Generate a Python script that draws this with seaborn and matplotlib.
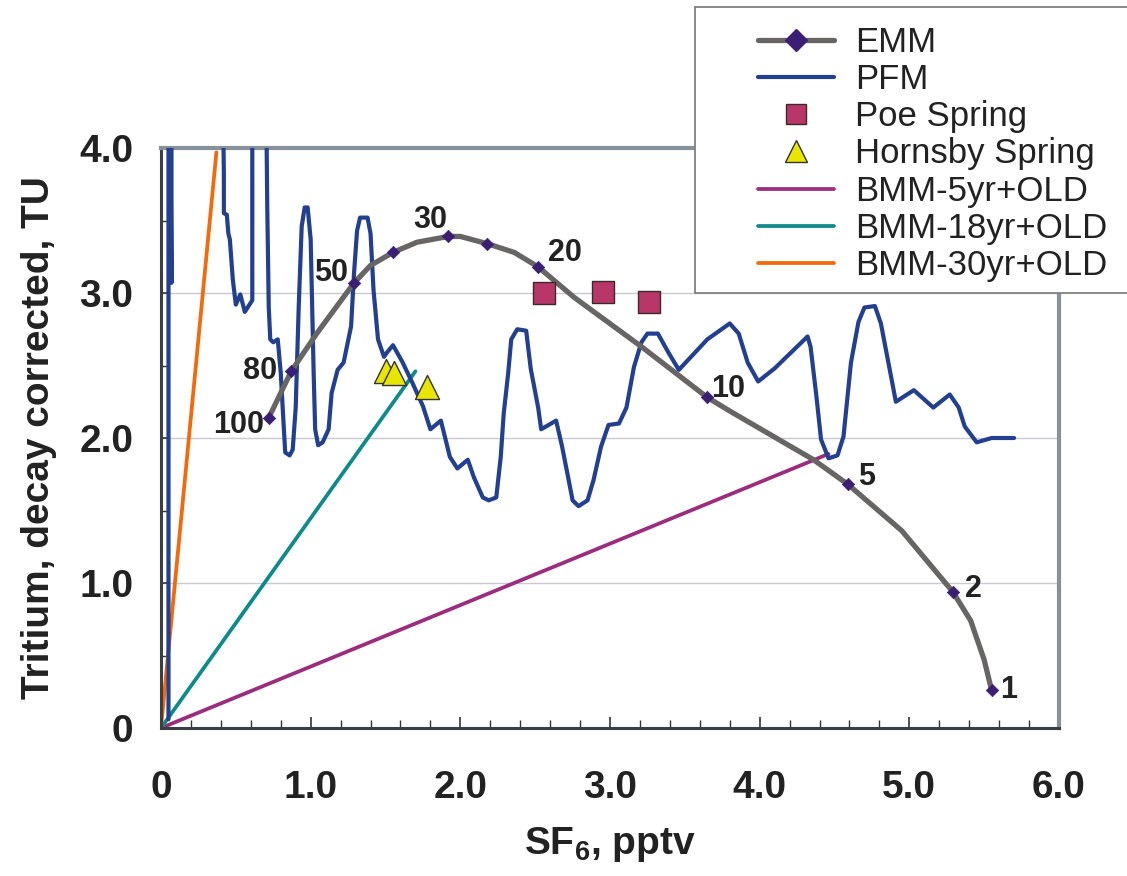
import matplotlib
matplotlib.use("Agg")
import matplotlib.pyplot as plt
import seaborn as sns
from matplotlib.lines import Line2D
from matplotlib.patches import Rectangle
from matplotlib.ticker import MultipleLocator

sns.set_theme(style="white")
plt.rcParams["font.family"] = ["Liberation Sans", "DejaVu Sans"]
plt.rcParams["mathtext.fontset"] = "custom"
plt.rcParams["mathtext.rm"] = "Liberation Sans"
plt.rcParams["mathtext.bf"] = "Liberation Sans:bold"

# EMM curve
emm_x = [0.72, 0.87, 1.04, 1.29, 1.40, 1.55, 1.71, 1.92, 2.00, 2.18, 2.36, 2.52,
         2.76, 3.21, 3.65, 3.81, 4.36, 4.59, 4.95, 5.29, 5.41, 5.50, 5.55]
emm_y = [2.14, 2.46, 2.72, 3.07, 3.19, 3.28, 3.35, 3.39, 3.39, 3.34, 3.28, 3.18,
         2.97, 2.63, 2.28, 2.18, 1.85, 1.68, 1.36, 0.94, 0.74, 0.47, 0.26]
# age markers on the EMM curve (years)
mark_x = [0.72, 0.87, 1.29, 1.55, 1.92, 2.18, 2.52, 3.65, 4.59, 5.29, 5.55]
mark_y = [2.14, 2.46, 3.07, 3.28, 3.39, 3.34, 3.18, 2.28, 1.68, 0.94, 0.26]
mark_age = ["100", "80", "50", "", "30", "", "20", "10", "5", "2", "1"]

# PFM curve (young -> old); 4.6 = off the top of the chart
pfm_x = [5.70, 5.55, 5.45, 5.37, 5.33, 5.27, 5.16, 5.03, 4.91, 4.86, 4.81, 4.77,
         4.70, 4.66, 4.61, 4.56, 4.52, 4.46, 4.41, 4.38, 4.34, 4.32, 4.26, 4.10,
         3.99, 3.92, 3.86, 3.80, 3.65, 3.46, 3.39, 3.32, 3.25, 3.21, 3.16, 3.11,
         3.06, 2.99, 2.94, 2.89, 2.85, 2.79, 2.75, 2.72, 2.68, 2.64, 2.54, 2.52,
         2.47, 2.44, 2.38, 2.34, 2.32, 2.29, 2.27, 2.24, 2.19, 2.15, 2.09, 2.05,
         1.98, 1.93, 1.87, 1.80, 1.75, 1.68, 1.61, 1.55, 1.51, 1.49, 1.45, 1.42,
         1.40, 1.38, 1.33, 1.31, 1.29, 1.27, 1.22, 1.18, 1.14, 1.12, 1.08, 1.05,
         1.03, 1.02, 1.00, 0.98, 0.96, 0.94, 0.92, 0.90, 0.88, 0.86, 0.83, 0.82,
         0.80, 0.78, 0.75, 0.73, 0.72, 0.71, 0.70, 0.61, 0.61, 0.56, 0.53, 0.50,
         0.48, 0.46, 0.45, 0.44, 0.42, 0.42, 0.41, 0.36, 0.07, 0.07, 0.06, 0.05,
         0.05]
pfm_y = [2.00, 2.00, 1.97, 2.08, 2.21, 2.30, 2.21, 2.33, 2.25, 2.52, 2.79, 2.91,
         2.90, 2.80, 2.52, 2.01, 1.88, 1.86, 1.99, 2.28, 2.63, 2.70, 2.64, 2.48,
         2.39, 2.52, 2.72, 2.79, 2.68, 2.47, 2.59, 2.72, 2.72, 2.66, 2.49, 2.21,
         2.10, 2.09, 1.94, 1.71, 1.57, 1.53, 1.57, 1.73, 1.94, 2.12, 2.06, 2.21,
         2.48, 2.74, 2.75, 2.68, 2.45, 2.17, 1.87, 1.59, 1.57, 1.59, 1.73, 1.85,
         1.79, 1.87, 2.12, 2.06, 2.22, 2.38, 2.53, 2.64, 2.59, 2.56, 2.68, 3.02,
         3.41, 3.52, 3.52, 3.43, 3.14, 2.77, 2.52, 2.47, 2.31, 2.06, 1.97, 1.95,
         2.06, 2.45, 3.37, 3.59, 3.59, 3.46, 2.90, 2.21, 1.92, 1.88, 1.90, 2.08,
         2.45, 2.68, 2.66, 2.68, 2.90, 3.59, 4.60, 4.60, 2.95, 2.87, 2.99, 2.92,
         3.09, 3.37, 3.41, 3.54, 3.55, 3.83, 4.60, 4.60, 4.60, 3.07, 4.60, 4.60,
         0.06]

poe_x = [2.56, 2.95, 3.26]
poe_y = [3.00, 3.01, 2.94]
hornsby_x = [1.50, 1.56, 1.78]
hornsby_y = [2.46, 2.45, 2.35]

# binary mixing lines: origin -> end member
bmm_names = ["BMM-5yr+OLD", "BMM-18yr+OLD", "BMM-30yr+OLD"]
bmm_end_x = [4.46, 1.70, 0.37]
bmm_end_y = [1.89, 2.46, 3.97]
bmm_colors = ["#9c2c7c", "#0e8a8a", "#f26a0c"]

x_ticks = [0, 1, 2, 3, 4, 5, 6]
x_ticklabels = ["0", "1.0", "2.0", "3.0", "4.0", "5.0", "6.0"]
y_ticks = [0, 1, 2, 3, 4]
y_ticklabels = ["0", "1.0", "2.0", "3.0", "4.0"]

emm_color = "#686565"
emm_marker = "#3b1f75"
pfm_color = "#233f8f"
poe_color = "#b83768"
hornsby_color = "#e8e600"
text_color = "#222222"

fig = plt.figure(figsize=(11.27, 8.76), dpi=100)
ax = fig.add_axes([161 / 1127, 1 - 728 / 876, 898 / 1127, 580 / 876])

for name, ex, ey, c in zip(bmm_names, bmm_end_x, bmm_end_y, bmm_colors):
    sns.lineplot(x=[0, ex], y=[0, ey], color=c, lw=2.7, ax=ax,
                 estimator=None, sort=False, zorder=2)

sns.lineplot(x=pfm_x, y=pfm_y, color=pfm_color, lw=3.0, ax=ax,
             estimator=None, sort=False, zorder=3)
sns.lineplot(x=emm_x, y=emm_y, color=emm_color, lw=3.8, ax=ax,
             estimator=None, sort=False, zorder=4)
sns.scatterplot(x=mark_x, y=mark_y, marker="D", s=40, color=emm_marker,
                edgecolor=emm_marker, ax=ax, zorder=5)
sns.scatterplot(x=poe_x, y=poe_y, marker="s", s=260, color=poe_color,
                edgecolor="#3a2a2a", linewidth=1, ax=ax, zorder=6)
sns.scatterplot(x=hornsby_x, y=hornsby_y, marker="^", s=300, color=hornsby_color,
                edgecolor="#333333", linewidth=1, ax=ax, zorder=6)

# age labels along EMM curve (offsets in points)
offsets = {
    "100": (-3, -5, "right"), "80": (-10, 0, "right"), "50": (-4, 7, "right"),
    "30": (-1, 12, "right"), "20": (7, 10, "left"), "10": (3, 6, "left"),
    "5": (7, 5, "left"), "2": (9, 2, "left"), "1": (6, 0, "left"),
}
for mx, my, lab in zip(mark_x, mark_y, mark_age):
    if not lab:
        continue
    dx, dy, ha = offsets[lab]
    ax.annotate(lab, (mx, my), xytext=(dx, dy), textcoords="offset points",
                ha=ha, va="center", fontsize=22, fontweight="bold",
                color=text_color, zorder=7)

ax.set_xlim(0, 6)
ax.set_ylim(0, 4)
ax.set_xticks(x_ticks, x_ticklabels)
ax.set_yticks(y_ticks, y_ticklabels)
ax.xaxis.set_minor_locator(MultipleLocator(0.2))
ax.yaxis.set_minor_locator(MultipleLocator(0.5))
ax.tick_params(axis="both", which="both", direction="in", colors="#333333",
               labelcolor=text_color, bottom=True, left=True)
ax.tick_params(axis="x", which="major", length=8, width=1.2, pad=30, labelsize=28)
ax.tick_params(axis="x", which="minor", length=5.5, width=1)
ax.tick_params(axis="y", which="major", length=5, width=1.2, pad=20, labelsize=28)
ax.tick_params(axis="y", which="minor", length=4, width=1)
for lab in ax.get_xticklabels() + ax.get_yticklabels():
    lab.set_fontweight("bold")

ax.grid(axis="y", color="#c9c9d2", lw=1)
ax.grid(axis="x", visible=False)
ax.set_axisbelow(True)

for side in ("top", "right"):
    ax.spines[side].set_color("#87919a")
    ax.spines[side].set_linewidth(3)
for side in ("left", "bottom"):
    ax.spines[side].set_color("#3a3f44")
    ax.spines[side].set_linewidth(2.2)

ax.set_xlabel(r"SF$_{\mathbf{6}}$, pptv", fontsize=28, fontweight="bold",
              color=text_color, labelpad=14)
ax.set_ylabel("Tritium, decay corrected, TU", fontsize=28, fontweight="bold",
              color=text_color, labelpad=16)

# legend box sticking out of the top-right corner
fig.patches.append(Rectangle((695 / 1127, 1 - 293 / 876), 0.5, 286 / 876,
                             transform=fig.transFigure, facecolor="white",
                             edgecolor="#808080", lw=1.3, zorder=3))
handles = [
    Line2D([], [], color=emm_color, lw=3.8, marker="D", markersize=11,
           markerfacecolor=emm_marker, markeredgecolor=emm_marker),
    Line2D([], [], color=pfm_color, lw=3.0),
    Line2D([], [], ls="none", marker="s", markersize=15, markerfacecolor=poe_color,
           markeredgecolor="#3a2a2a"),
    Line2D([], [], ls="none", marker="^", markersize=16,
           markerfacecolor=hornsby_color, markeredgecolor="#333333"),
] + [Line2D([], [], color=c, lw=2.7) for c in bmm_colors]
labels = ["EMM", "PFM", "Poe Spring", "Hornsby Spring"] + bmm_names
fig.legend(handles, labels, loc="upper left",
           bbox_to_anchor=(758 / 1127, 1 - 26 / 876), frameon=False,
           borderpad=0, borderaxespad=0, handlelength=2.2, handletextpad=0.6,
           labelspacing=0.12, fontsize=25, labelcolor=text_color)

fig.savefig("out.png", dpi=100)
